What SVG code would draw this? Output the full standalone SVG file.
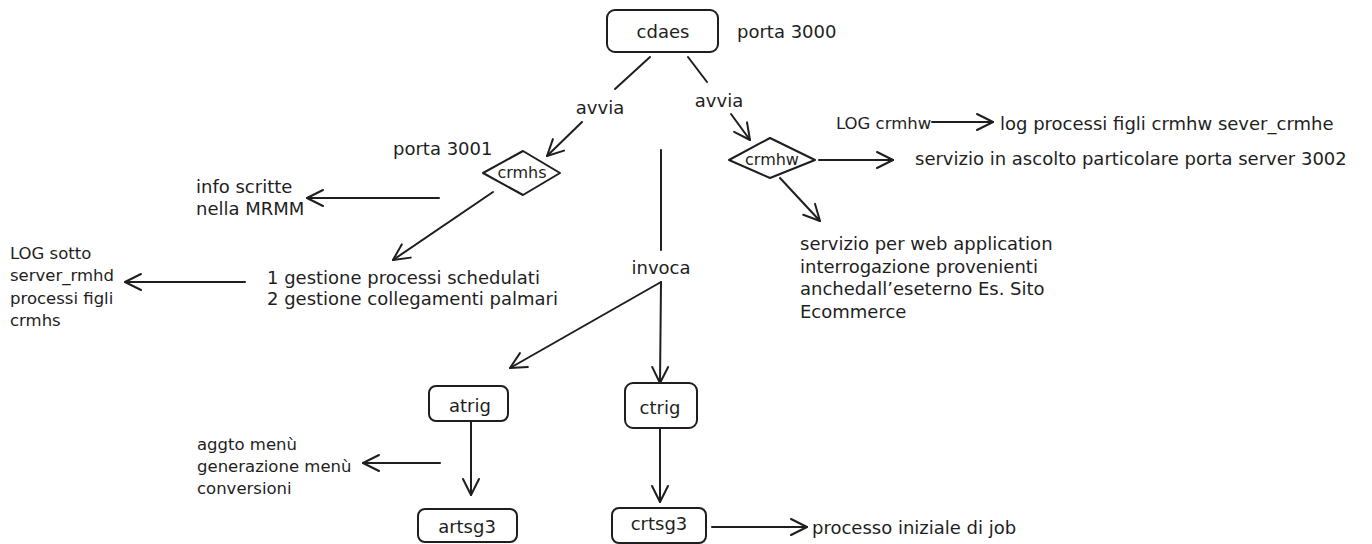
<svg xmlns="http://www.w3.org/2000/svg" width="1372" height="544" viewBox="0 0 1372 544">
<defs>
<style>
text{font-family:"DejaVu Sans","Liberation Sans",sans-serif;font-size:18px;fill:#1e1e1e;dominant-baseline:central}
.c{text-anchor:middle}
.d{font-size:16px}
.s{font-size:16.5px}
.box{fill:#fff;stroke:#1e1e1e;stroke-width:2}
.ln{fill:none;stroke:#1e1e1e;stroke-width:2;stroke-linecap:round}
.ar{marker-end:url(#ah)}
</style>
<marker id="ah" markerUnits="userSpaceOnUse" markerWidth="22" markerHeight="22" viewBox="0 0 22 22" refX="18" refY="11" orient="auto">
<path d="M2,3 L18,11 L2,19" fill="none" stroke="#1e1e1e" stroke-width="2" stroke-linecap="round" stroke-linejoin="round"/>
</marker>
</defs>
<rect width="1372" height="544" fill="#fff"/>
<g id="connectors">
<line class="ln" x1="650" y1="57" x2="615" y2="89"/>
<line class="ln ar" x1="582" y1="122" x2="547" y2="156"/>
<line class="ln" x1="688" y1="57" x2="707" y2="82"/>
<line class="ln ar" x1="731" y1="114" x2="750" y2="140"/>
<line class="ln" x1="661" y1="150" x2="661" y2="250"/>
<line class="ln ar" x1="661" y1="282" x2="510" y2="368"/>
<line class="ln ar" x1="661" y1="282" x2="660" y2="383"/>
<line class="ln ar" x1="439" y1="198" x2="307" y2="198"/>
<line class="ln ar" x1="493" y1="192" x2="393" y2="260"/>
<line class="ln ar" x1="245" y1="282" x2="125" y2="282"/>
<line class="ln ar" x1="819" y1="160" x2="893" y2="160"/>
<line class="ln ar" x1="780" y1="178" x2="820" y2="221"/>
<line class="ln ar" x1="932" y1="122" x2="993" y2="122"/>
<line class="ln ar" x1="471" y1="421" x2="471" y2="495"/>
<line class="ln ar" x1="660" y1="428" x2="660" y2="502"/>
<line class="ln ar" x1="440" y1="463" x2="363" y2="463"/>
<line class="ln ar" x1="712" y1="527" x2="807" y2="527"/>
<text class="c" x="600" y="107">avvia</text>
<text class="c" x="719" y="100">avvia</text>
<text class="c" x="661" y="267">invoca</text>
</g>
<g id="cdaes">
<rect class="box" x="607" y="10" width="111" height="42" rx="8"/>
<text class="c" x="663" y="31">cdaes</text>
</g>
<g id="porta3000"><text x="737" y="31">porta 3000</text></g>
<g id="crmhs">
<path class="box" d="M483,173 L523,151 L560,173 L523,195 Z" stroke-linejoin="round"/>
<text class="c d" x="522" y="172">crmhs</text>
</g>
<g id="porta3001"><text x="393" y="148">porta 3001</text></g>
<g id="crmhw">
<path class="box" d="M729,160 L770,138 L815,160 L770,178 Z" stroke-linejoin="round"/>
<text class="c d" x="772" y="159">crmhw</text>
</g>
<g id="info"><text x="196" y="186">info scritte</text><text x="196" y="208">nella MRMM</text></g>
<g id="gestione"><text x="267" y="277">1 gestione processi schedulati</text><text x="267" y="298">2 gestione collegamenti palmari</text></g>
<g id="logsotto" class="s"><text class="s" x="10" y="253">LOG sotto</text><text class="s" x="10" y="275">server_rmhd</text><text class="s" x="10" y="298">processi figli</text><text class="s" x="10" y="320">crmhs</text></g>
<g id="logcrmhw"><text class="s" x="836" y="123">LOG crmhw</text></g>
<g id="logprocessi"><text x="1000" y="123">log processi figli crmhw sever_crmhe</text></g>
<g id="servizio3002"><text x="915" y="158">servizio in ascolto particolare porta server 3002</text></g>
<g id="servizioweb"><text x="800" y="243">servizio per web application</text><text x="800" y="266">interrogazione provenienti</text><text x="800" y="288">anchedall’eseterno Es. Sito</text><text x="800" y="311">Ecommerce</text></g>
<g id="atrig">
<rect class="box" x="429" y="386" width="79" height="35" rx="7"/>
<text class="c" x="470" y="405">atrig</text>
</g>
<g id="ctrig">
<rect class="box" x="625" y="383" width="72" height="45" rx="8"/>
<text class="c" x="660" y="407">ctrig</text>
</g>
<g id="aggto"><text class="s" x="197" y="444">aggto menù</text><text class="s" x="197" y="466">generazione menù</text><text class="s" x="197" y="488">conversioni</text></g>
<g id="artsg3">
<rect class="box" x="418" y="509" width="99" height="33" rx="7"/>
<text class="c" x="467" y="526">artsg3</text>
</g>
<g id="crtsg3">
<rect class="box" x="612" y="508" width="94" height="35" rx="7"/>
<text class="c" x="659" y="523">crtsg3</text>
</g>
<g id="processoiniziale"><text x="812" y="527">processo iniziale di job</text></g>
</svg>
